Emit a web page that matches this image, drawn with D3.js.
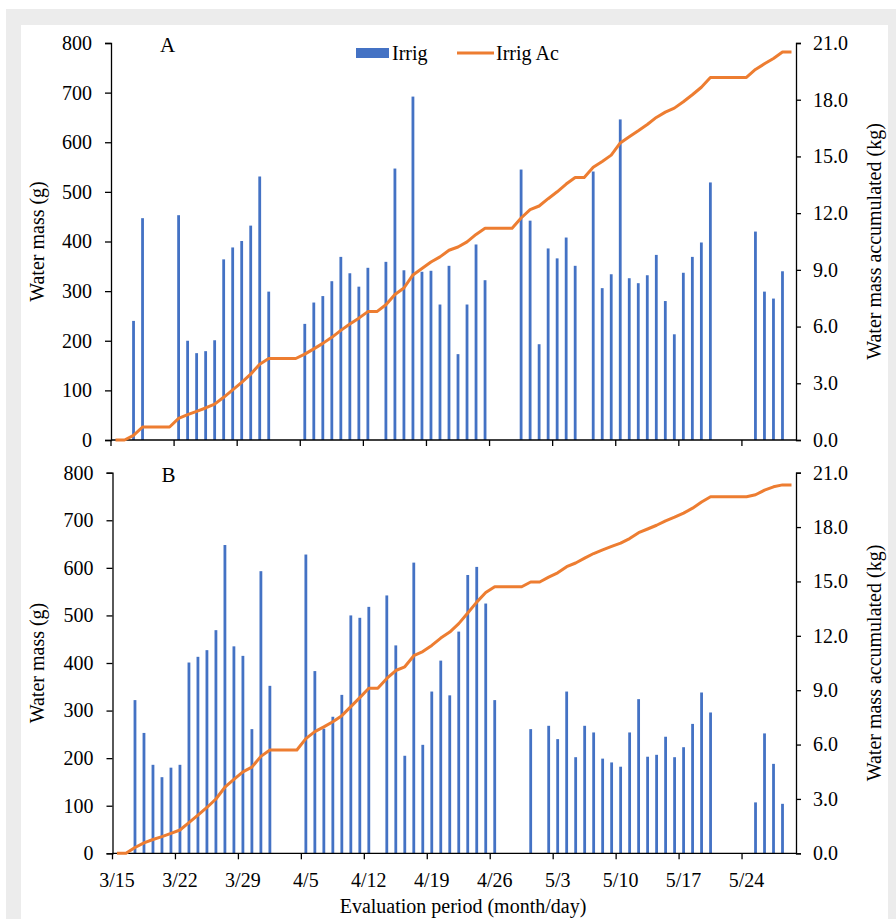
<!DOCTYPE html>
<html>
<head>
<meta charset="utf-8">
<script src="https://cdn.jsdelivr.net/npm/d3@7"></script>
<style>
body { margin: 0; background: #fff; }
svg text { font-family: "Liberation Serif", "Times New Roman", serif; fill: #000; }
</style>
</head>
<body>
<div id="chart"></div>
<script>
// daily irrigation (g), one value per day from 3/15 to 5/29, 0 = no irrigation
const irrigA = [0, 0, 240, 447, 0, 0, 0, 453, 200, 175, 179, 201, 364, 388, 401, 432, 531, 299, 0, 0,
	0, 234, 277, 290, 320, 369, 336, 309, 347, 0, 359, 547, 342, 692, 339, 341, 273, 351, 173, 273,
	394, 322, 0, 0, 0, 545, 442, 193, 386, 366, 408, 351, 0, 541, 306, 334, 646, 326, 316, 332,
	373, 280, 213, 337, 369, 398, 519, 0, 0, 0, 0, 420, 299, 285, 340, 0];
const irrigB = [0, 0, 322, 253, 186, 160, 180, 186, 401, 413, 427, 469, 648, 435, 415, 261, 593, 352, 0, 0,
	0, 628, 383, 262, 287, 333, 500, 495, 518, 0, 542, 437, 205, 611, 228, 340, 405, 332, 466, 585,
	602, 525, 322, 0, 0, 0, 261, 0, 268, 240, 340, 202, 268, 254, 199, 191, 182, 254, 324, 203,
	207, 245, 202, 223, 272, 338, 296, 0, 0, 0, 0, 107, 252, 188, 104, 0];
const weekLabels = ["3/15", "3/22", "3/29", "4/5", "4/12", "4/19", "4/26", "5/3", "5/10", "5/17", "5/24"];
const leftTicks = [0, 100, 200, 300, 400, 500, 600, 700, 800];
const rightTicks = [0, 3, 6, 9, 12, 15, 18, 21];

const fmtDay = d3.timeFormat("%-m/%-d");
const days = d3.timeDay.range(new Date(2021, 2, 15), new Date(2021, 4, 30)).map(fmtDay);

const W = 896, H = 919;
const blue = "#4472C4", orange = "#ED7D31";
const serif = "'Liberation Serif', 'Times New Roman', serif";

let svg = d3.select("#chart").append("svg")
	.attr("width", W)
	.attr("height", H)
	.style("font-family", serif);

// grey frame with white card
svg.append("rect").attr("width", W).attr("height", H).attr("fill", "#fff");
svg.append("rect").attr("x", 6).attr("y", 9).attr("width", W - 6).attr("height", H - 9).attr("fill", "#ececec");
svg.append("rect").attr("x", 21).attr("y", 25).attr("width", 867).attr("height", H - 25).attr("fill", "#fff");

function addText(parent) {
	return parent.append("text")
		.attr("font-family", serif)
		.style("font-family", serif)
		.style("font-size", "20px");
}

function makePanel(values, box, letter) {
	let x = d3.scaleBand()
		.domain(days)
		.range([box.left, box.right])
		.padding(0);
	let bw = x.bandwidth();

	let y = d3.scaleLinear().domain([0, 800]).range([box.bottom, box.top]);
	let y2 = d3.scaleLinear().domain([0, 21]).range([box.bottom, box.top]);

	let acc = Array.from(d3.cumsum(values), v => v / 1000);

	let g = svg.append("g");

	// bars
	g.selectAll(".bar")
		.data(values.map((v, i) => ({day: days[i], v: v})).filter(d => d.v > 0))
		.enter().append("rect")
		.attr("class", "bar")
		.attr("x", d => x(d.day) + bw / 2 - 1.4)
		.attr("width", 2.8)
		.attr("y", d => y(d.v))
		.attr("height", d => y(0) - y(d.v))
		.attr("fill", blue);

	// left axis
	let la = g.append("g")
		.attr("transform", "translate(" + box.left + ",0)")
		.call(d3.axisLeft(y).tickValues(leftTicks).tickSizeOuter(0).tickSize(6).tickPadding(13));

	// right axis
	let ra = g.append("g")
		.attr("transform", "translate(" + box.right + ",0)")
		.call(d3.axisRight(y2).tickValues(rightTicks).tickFormat(d3.format(".1f")).tickSizeOuter(0).tickSize(5).tickPadding(12));

	// bottom axis, ticks sit on the category boundaries
	let ba = g.append("g")
		.attr("transform", "translate(0," + box.bottom + ")")
		.call(d3.axisBottom(x).tickValues(weekLabels).tickSizeOuter(0).tickSize(6).tickPadding(14));
	ba.selectAll(".tick line").attr("transform", "translate(" + (-bw / 2) + ",0)");
	if (!box.showLabels) ba.selectAll(".tick text").remove();

	[la, ra, ba].forEach(a => {
		a.attr("font-family", serif).attr("font-size", 20);
		a.select(".domain").attr("stroke", "#000").attr("stroke-width", 1.3);
		a.selectAll(".tick line").attr("stroke", "#000").attr("stroke-width", 1.3);
		a.selectAll(".tick text")
			.style("font-family", serif)
			.style("font-size", "20px")
			.attr("fill", "#000");
	});
	ba.select(".domain").attr("d", "M" + box.left + ",0H" + box.right);

	// accumulated line
	let line = d3.line()
		.x((d, i) => x(days[i]) + bw / 2)
		.y(d => y2(d));
	g.append("path")
		.datum(acc)
		.attr("fill", "none")
		.attr("stroke", orange)
		.attr("stroke-width", 3)
		.attr("stroke-linejoin", "round")
		.attr("d", line);

	// panel letter
	addText(g)
		.attr("x", box.left + 49)
		.attr("y", box.top + 9)
		.style("font-size", "21px")
		.text(letter);

	// axis titles
	let cy = (box.top + box.bottom) / 2;
	addText(g)
		.attr("transform", "translate(44," + cy + ") rotate(-90)")
		.attr("text-anchor", "middle")
		.text("Water mass (g)");
	addText(g)
		.attr("transform", "translate(881," + cy + ") rotate(-90)")
		.attr("text-anchor", "middle")
		.text("Water mass accumulated (kg)");
}

makePanel(irrigA, {left: 111, right: 796, top: 43, bottom: 440, showLabels: false}, "A");
makePanel(irrigB, {left: 112.5, right: 796, top: 472.7, bottom: 853.3, showLabels: true}, "B");

// legend (panel A)
let lg = svg.append("g");
lg.append("rect").attr("x", 356).attr("y", 48).attr("width", 33).attr("height", 10).attr("fill", blue);
addText(lg).attr("x", 392).attr("y", 60).text("Irrig");
lg.append("line").attr("x1", 457).attr("x2", 494).attr("y1", 53).attr("y2", 53)
	.attr("stroke", orange).attr("stroke-width", 3);
addText(lg).attr("x", 496).attr("y", 60).text("Irrig Ac");

// x axis title
addText(svg)
	.attr("x", 463)
	.attr("y", 913)
	.attr("text-anchor", "middle")
	.text("Evaluation period (month/day)");
</script>
</body>
</html>
